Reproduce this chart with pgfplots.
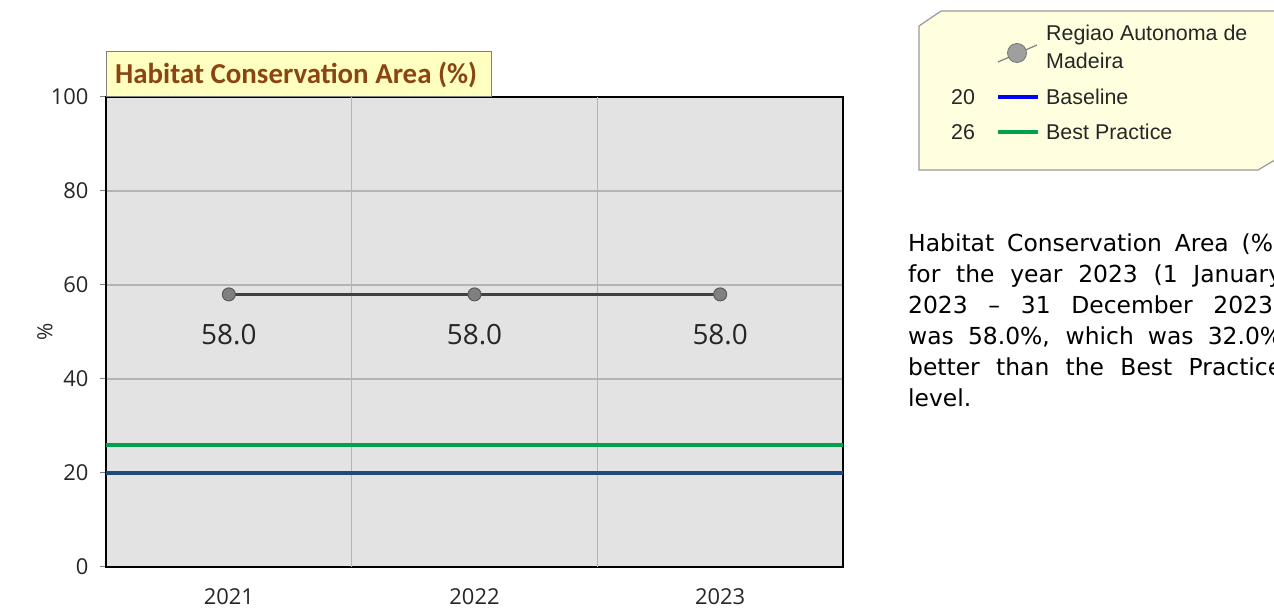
\documentclass[border=0pt]{standalone}
\usepackage{pgfplots}
\pgfplotsset{compat=1.18}
\usepackage{fontspec}
\setmainfont{Open Sans}
\newfontfamily\calib{Carlito}
\newfontfamily\arial{Liberation Sans}
\newfontfamily\verd{DejaVu Sans}
\definecolor{bgc}{HTML}{E3E3E3}
\definecolor{gridc}{HTML}{B4B4B4}
\definecolor{madline}{HTML}{404040}
\definecolor{markfill}{HTML}{808080}
\definecolor{markdraw}{HTML}{5A5A5A}
\definecolor{basec}{HTML}{1F4A7F}
\definecolor{bestc}{HTML}{00A050}
\definecolor{titlefill}{HTML}{FFFFC0}
\definecolor{titletext}{HTML}{8B4513}
\definecolor{legfill}{HTML}{FFFFE0}
\definecolor{txt}{HTML}{262626}
\begin{document}
\begin{tikzpicture}[x=1bp,y=1bp]
\clip (0,0) rectangle (1274,610);
\fill[white] (0,0) rectangle (1274,610);
\begin{axis}[
  at={(106bp,43bp)}, anchor=south west,
  scale only axis, width=737bp, height=470bp,
  xmin=-0.5, xmax=2.5, ymin=0, ymax=100,
  xtick={0,1,2}, xticklabels={2021,2022,2023},
  ytick={0,20,40,60,80,100},
  ytick pos=left,
  /pgf/number format/assume math mode=true,
  axis background/.style={fill=bgc},
  ymajorgrids,
  grid style={gridc, line width=1.5bp},
  extra x ticks={0.5,1.5},
  extra x tick labels={},
  extra x tick style={grid=major, major tick length=9bp},
  xtick style={draw=none},
  ytick style={draw=gray, line width=1bp},
  tick align=outside,
  major tick length=6bp,
  axis line style={black, line width=2bp},
  tick label style={font=\fontsize{22}{26}\selectfont, text=txt},
  xticklabel style={yshift=-12bp},
  yticklabel style={xshift=-8bp},
  ylabel={\%},
  ylabel style={font=\fontsize{21}{24}\selectfont, text=txt, at={(axis description cs:-0.083,0.5)}, anchor=center},
  clip=false,
]
\addplot[bestc, line width=4.5bp] coordinates {(-0.5,26) (2.5,26)};
\addplot[basec, line width=4.5bp] coordinates {(-0.5,20) (2.5,20)};
\addplot[madline, line width=2.8bp, mark=*, mark size=6.5bp,
  mark options={fill=markfill, draw=markdraw, line width=1bp},
  nodes near coords={\pgfmathprintnumber[fixed, fixed zerofill, precision=1, assume math mode=true]{\pgfplotspointmeta}},
  nodes near coords style={font=\fontsize{28}{32}\selectfont, text=txt, anchor=center, yshift=-40bp}]
  coordinates {(0,58) (1,58) (2,58)};
\end{axis}
% title box
\draw[gray, line width=1bp, fill=titlefill] (106,513) rectangle (491,558);
\node[anchor=west, inner sep=0pt,
  font=\calib\bfseries\fontsize{29}{32}\selectfont, text=titletext] at (115,535) {Habitat Conservation Area (\%)};
% legend box
\filldraw[fill=legfill, draw=gray!80, line width=1.2bp]
  (919,584) -- (941,599) -- (1285,599) -- (1285,456) -- (1258,440) -- (919,440) -- cycle;
\draw[gray, line width=1.2bp] (998,548) -- (1037,565);
\filldraw[fill=gray!75, draw=gray!90!black, line width=0.8bp] (1017,557) circle (9.5);
\node[anchor=west, inner sep=0pt, font=\arial\fontsize{21.5}{26}\selectfont, text=txt] at (1046,575) {Regiao Autonoma de};
\node[anchor=west, inner sep=0pt, font=\arial\fontsize{21.5}{26}\selectfont, text=txt] at (1046,549) {Madeira};
\node[anchor=west, inner sep=0pt, font=\arial\fontsize{21.5}{26}\selectfont, text=txt] at (951,513) {20};
\draw[blue, line width=4bp] (998,513) -- (1038,513);
\node[anchor=west, inner sep=0pt, font=\arial\fontsize{21.5}{26}\selectfont, text=txt] at (1046,513) {Baseline};
\node[anchor=west, inner sep=0pt, font=\arial\fontsize{21.5}{26}\selectfont, text=txt] at (951,478) {26};
\draw[bestc, line width=4bp] (998,478) -- (1038,478);
\node[anchor=west, inner sep=0pt, font=\arial\fontsize{21.5}{26}\selectfont, text=txt] at (1046,478) {Best Practice};
% paragraph
\node[anchor=north west, inner sep=0pt, align=left, font=\verd\fontsize{23.5}{31}\selectfont, text=black] at (908,376) {%
\makebox[374bp][s]{Habitat Conservation Area (\%)}\\
\makebox[374bp][s]{for the year 2023 (1 January}\\
\makebox[374bp][s]{2023 – 31 December 2023)}\\
\makebox[374bp][s]{was 58.0\%, which was 32.0\%}\\
\makebox[374bp][s]{better than the Best Practice}\\
level.};
\end{tikzpicture}
\end{document}
